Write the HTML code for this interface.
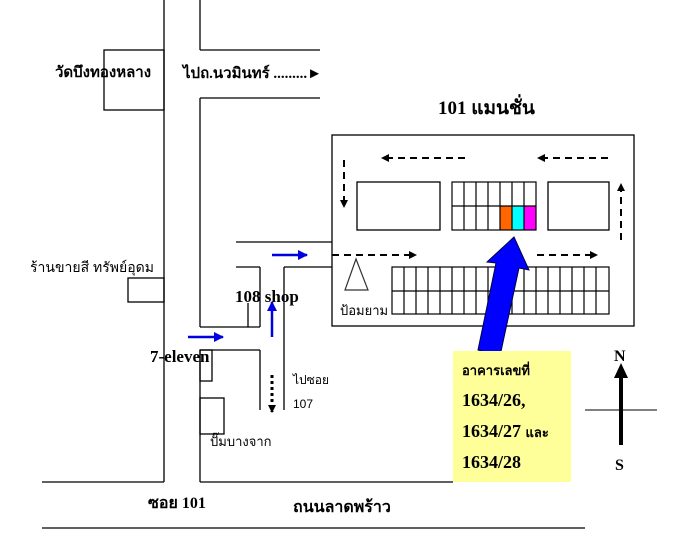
<!DOCTYPE html>
<html><head><meta charset="utf-8"><style>
body{margin:0;background:#fff;width:677px;height:540px;overflow:hidden}
svg{display:block}
text{font-family:"Liberation Serif","Noto Serif CJK SC","DejaVu Serif",serif;fill:#000}
.b{font-weight:bold}
.s{font-family:"Liberation Sans","DejaVu Sans",sans-serif}
</style></head><body>
<svg width="677" height="540" xmlns="http://www.w3.org/2000/svg">
<defs>
<marker id="ah" markerWidth="8" markerHeight="8" refX="7" refY="4" orient="auto" markerUnits="userSpaceOnUse"><path d="M0,0 L8,4 L0,8z" fill="#000"/></marker>
<marker id="bh" markerWidth="10" markerHeight="10" refX="9" refY="5" orient="auto" markerUnits="userSpaceOnUse"><path d="M0,0 L10,5 L0,10z" fill="#0000e0"/></marker>
</defs>
<g stroke="#000" stroke-width="1.3" fill="none">
<line x1="164" y1="0" x2="164" y2="482"/>
<line x1="200" y1="0" x2="200" y2="50"/>
<line x1="200" y1="50" x2="320" y2="50"/>
<line x1="200" y1="98" x2="320" y2="98"/>
<line x1="200" y1="98" x2="200" y2="327"/>
<rect x="104" y="50" width="60" height="60"/>
<line x1="200" y1="327" x2="260" y2="327"/>
<line x1="260" y1="267" x2="260" y2="327"/>
<line x1="236" y1="267" x2="260" y2="267"/>
<line x1="248" y1="303" x2="248" y2="327"/>
<line x1="236" y1="242" x2="332" y2="242"/>
<line x1="284" y1="267" x2="332" y2="267"/>
<line x1="284" y1="267" x2="284" y2="410"/>
<rect x="128" y="278" width="36" height="24"/>
<line x1="200" y1="350" x2="260" y2="350"/>
<line x1="260" y1="350" x2="260" y2="410"/>
<line x1="200" y1="350" x2="200" y2="482"/>
<rect x="200" y="350" width="12" height="31"/>
<rect x="200" y="398" width="24" height="36"/>
<line x1="42" y1="482" x2="164" y2="482"/>
<line x1="200" y1="482" x2="453" y2="482"/>
<line x1="42" y1="528" x2="585" y2="528"/>
<rect x="332" y="135" width="302" height="191"/>
<rect x="357" y="182" width="83" height="48"/>
<rect x="548" y="182" width="61" height="48"/>
</g>
<rect x="500" y="206" width="12" height="24" fill="#ff6600"/>
<rect x="512" y="206" width="12" height="24" fill="#00ffff"/>
<rect x="524" y="206" width="12" height="24" fill="#ff00ff"/>
<g stroke="#000" stroke-width="1.2" fill="none">
<rect x="452" y="182" width="84" height="48"/>
<line x1="452" y1="206" x2="536" y2="206"/>
<path d="M464,182V230M476,182V230M488,182V230M500,182V230M512,182V230M524,182V230"/>
<rect x="392" y="267" width="217" height="47"/>
<line x1="392" y1="291" x2="609" y2="291"/>
<path d="M404,267V314M416,267V314M428,267V314M440,267V314M452,267V314M464,267V314M476,267V314M488,267V314M500,267V314M512,267V314M524,267V314M536,267V314M548,267V314M560,267V314M572,267V314M584,267V314M596,267V314"/>
<path d="M356,259 L345,290 L368,290 Z" stroke="#333"/>
</g>
<g stroke="#000" stroke-width="2" fill="none" stroke-dasharray="7,5">
<line x1="465" y1="158" x2="382" y2="158" marker-end="url(#ah)"/>
<line x1="608" y1="158" x2="538" y2="158" marker-end="url(#ah)"/>
<line x1="344" y1="160" x2="344" y2="207" marker-end="url(#ah)"/>
<line x1="621" y1="240" x2="621" y2="184" marker-end="url(#ah)"/>
<line x1="332" y1="255" x2="416" y2="255" marker-end="url(#ah)"/>
<line x1="537" y1="255" x2="597" y2="255" marker-end="url(#ah)"/>
<line x1="272" y1="375" x2="272" y2="412" stroke-dasharray="3,3" stroke-width="3" marker-end="url(#ah)"/>
</g>
<g stroke="#0000e0" stroke-width="2.5" fill="none">
<line x1="272" y1="255" x2="307" y2="255" marker-end="url(#bh)"/>
<line x1="188" y1="337" x2="223" y2="337" marker-end="url(#bh)"/>
<line x1="272" y1="337" x2="272" y2="302" marker-end="url(#bh)"/>
</g>
<path d="M478,350 L496,263 L487,262 L514,237 L529,270 L519,268 L500,356 Z" fill="#0000ff" stroke="#000040" stroke-width="1"/>
<rect x="453" y="351" width="118" height="131" fill="#ffff99"/>
<line x1="621" y1="445" x2="621" y2="375" stroke="#000" stroke-width="4"/>
<path d="M614,378 L621,363 L628,378Z" fill="#000"/>
<line x1="585" y1="410" x2="657" y2="410" stroke="#000" stroke-width="1"/>
<text x="55" y="77" font-size="15" class="b">วัดบึงทองหลาง</text>
<text x="183" y="78" font-size="15" class="b">ไปถ.นวมินทร์ .........►</text>
<text x="30" y="272" font-size="14" class="s">ร้านขายสี ทรัพย์อุดม</text>
<text x="438" y="114" font-size="19" class="b">101 แมนชั่น</text>
<text x="340" y="315" font-size="13" class="s">ป้อมยาม</text>
<text x="235" y="302" font-size="17" class="b">108 shop</text>
<text x="150" y="362" font-size="17" class="b">7-eleven</text>
<text x="293" y="384" font-size="12" class="s">ไปซอย</text>
<text x="293" y="408" font-size="12" class="s">107</text>
<text x="210" y="446" font-size="13" class="s">ปั๊มบางจาก</text>
<text x="148" y="508" font-size="16" class="b">ซอย 101</text>
<text x="293" y="512" font-size="16" class="b">ถนนลาดพร้าว</text>
<text x="462" y="375" font-size="13" class="b">อาคารเลขที่</text>
<text x="462" y="406" font-size="18" class="b">1634/26,</text>
<text x="462" y="437" font-size="18" class="b">1634/27 <tspan font-size="13">และ</tspan></text>
<text x="462" y="468" font-size="18" class="b">1634/28</text>
<text x="614" y="361" font-size="16" class="b">N</text>
<text x="615" y="470" font-size="16" class="b">S</text>
</svg>
</body></html>
